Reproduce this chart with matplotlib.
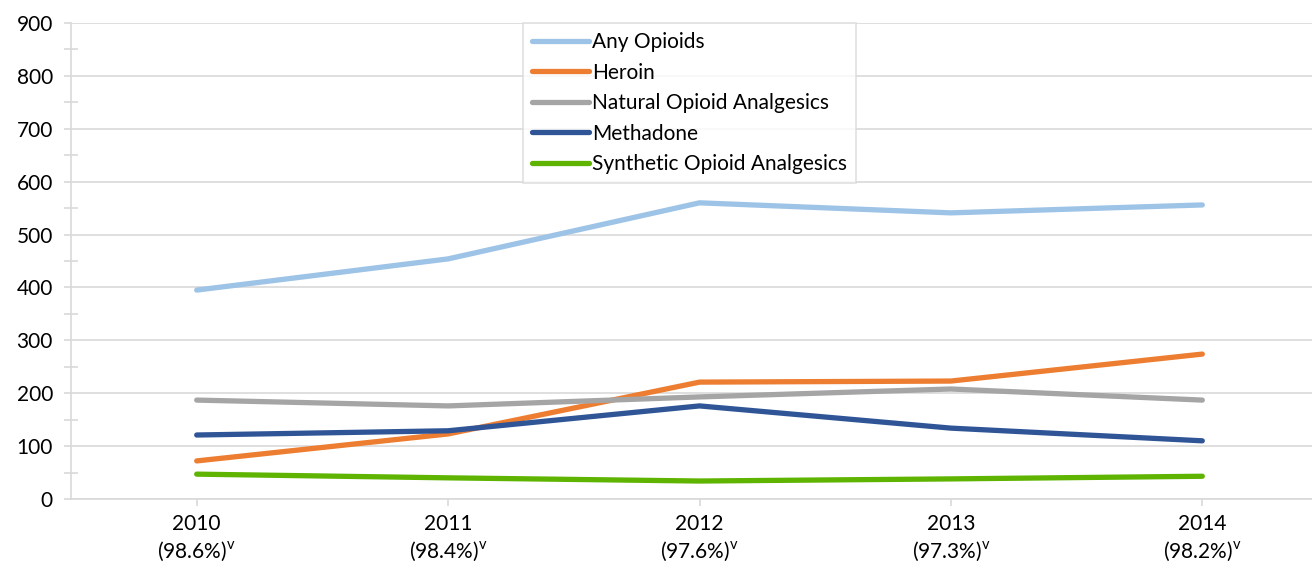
import matplotlib.pyplot as plt
from matplotlib.ticker import MultipleLocator

plt.rcParams['font.family'] = ['Lato', 'DejaVu Sans']
plt.rcParams['mathtext.fontset'] = 'custom'
plt.rcParams['mathtext.rm'] = 'Lato'

years = ["2010", "2011", "2012", "2013", "2014"]
pcts = ["98.6%", "98.4%", "97.6%", "97.3%", "98.2%"]
tick_labels = [f"{y}\n({p})" + r"$^{\mathrm{v}}$" for y, p in zip(years, pcts)]

any_opioids = [395, 454, 560, 541, 556]
heroin = [72, 123, 221, 223, 274]
natural = [187, 176, 193, 208, 187]
methadone = [121, 129, 176, 134, 110]
synthetic = [47, 40, 34, 38, 43]

series = [
    ("Any Opioids", any_opioids, "#9dc3e6"),
    ("Heroin", heroin, "#ed7d31"),
    ("Natural Opioid Analgesics", natural, "#a5a5a5"),
    ("Methadone", methadone, "#2f5597"),
    ("Synthetic Opioid Analgesics", synthetic, "#5eb400"),
]

fig = plt.figure(figsize=(13.12, 5.63), dpi=100)
ax = fig.add_axes([71 / 1312, 1 - 499 / 563, (1328 - 71) / 1312, 476 / 563])

x = list(range(len(years)))
for name, vals, col in series:
    ax.plot(x, vals, color=col, lw=3.8, label=name, solid_capstyle="round")

ax.set_xlim(-0.5, 4.5)
ax.set_ylim(0, 900)
ax.yaxis.set_major_locator(MultipleLocator(100))
ax.yaxis.set_minor_locator(MultipleLocator(50))
ax.grid(True, axis="y", which="major", color="#d9d9d9", lw=1.2)
ax.set_axisbelow(True)

ax.set_xticks(x)
ax.set_xticklabels(tick_labels, fontsize=15, linespacing=1.3)
ax.tick_params(axis="y", labelsize=15, colors="#d9d9d9", labelcolor="black", length=5, width=1.2, pad=8)
ax.tick_params(axis="y", which="minor", direction="inout", length=10, width=1.2, colors="#d9d9d9")
ax.tick_params(axis="x", colors="#d9d9d9", labelcolor="black", length=5, width=1.2, pad=6)

for s in ["top", "right"]:
    ax.spines[s].set_visible(False)
for s in ["left", "bottom"]:
    ax.spines[s].set_color("#d9d9d9")
    ax.spines[s].set_linewidth(1.2)

leg = ax.legend(loc="upper left", bbox_to_anchor=((523 - 71) / 1257, 1.0), fontsize=15,
                frameon=True, fancybox=False, handlelength=2.7, handletextpad=0.15,
                labelspacing=0.5, borderpad=0.45, borderaxespad=0)
leg.get_frame().set_edgecolor("#d9d9d9")
leg.get_frame().set_linewidth(1.2)

fig.savefig("out.png", dpi=100)
